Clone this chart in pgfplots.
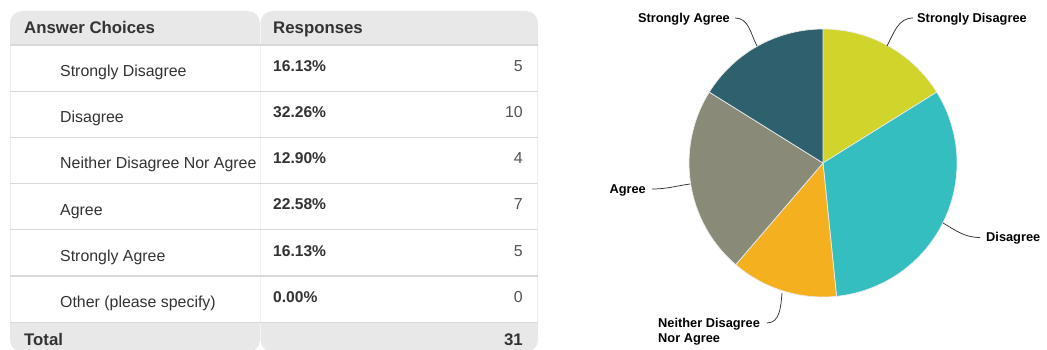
\documentclass[border=0pt]{standalone}
\usepackage{fontspec}
\setmainfont{Liberation Sans}
\usepackage{pgfplots}
\usepackage{pgfplotstable}
\pgfplotsset{compat=1.18}

\definecolor{slice0}{HTML}{D0D42B}
\definecolor{slice1}{HTML}{34BEC0}
\definecolor{slice2}{HTML}{F5B020}
\definecolor{slice3}{HTML}{8A8A78}
\definecolor{slice4}{HTML}{2E606D}
\definecolor{hdr}{HTML}{E8E8E8}
\definecolor{sepc}{HTML}{D9D9D9}
\definecolor{txt}{HTML}{333333}

% Responses: count and percent
\pgfplotstableread{
idx count percent
0 5 16.13
1 10 32.26
2 4 12.90
3 7 22.58
4 5 16.13
5 0 0.00
}\responses

\begin{document}
\begin{tikzpicture}
\useasboundingbox (0,0) rectangle (1047pt,350pt);
% total and slice angles from the data
\def\total{0}
\pgfplotsforeachungrouped \i in {0,...,5}{%
  \pgfplotstablegetelem{\i}{count}\of\responses
  \pgfmathsetmacro\total{\total+\pgfplotsretval}%
}
\def\cum{0}
\pgfplotsforeachungrouped \i in {0,...,5}{%
  \pgfplotstablegetelem{\i}{count}\of\responses
  \pgfmathsetmacro\angA{90-360*\cum/\total}%
  \pgfmathsetmacro\cum{\cum+\pgfplotsretval}%
  \pgfmathsetmacro\angB{90-360*\cum/\total}%
  \expandafter\xdef\csname sa\i\endcsname{\angA}%
  \expandafter\xdef\csname sb\i\endcsname{\angB}%
}
\begin{axis}[at={(0,0)}, anchor=south west, x=1pt, y=1pt,
  xmin=0, xmax=1047, ymin=0, ymax=350, y dir=reverse,
  hide axis, clip=false]
% ---------- table ----------
\fill[hdr, rounded corners=12pt] (axis cs:10,11) rectangle (axis cs:260,60);
\fill[hdr, rounded corners=12pt] (axis cs:260.5,11) rectangle (axis cs:538,60);
\fill[hdr, rounded corners=12pt] (axis cs:10,300) rectangle (axis cs:260,352);
\fill[hdr, rounded corners=12pt] (axis cs:260.5,300) rectangle (axis cs:538,352);
\fill[white] (axis cs:10,45) rectangle (axis cs:538,322.5);
\draw[hdr!80!white, line width=0.8pt] (axis cs:10.4,45) -- (axis cs:10.4,322);
\draw[hdr!80!white, line width=0.8pt] (axis cs:537.6,45) -- (axis cs:537.6,322);
\draw[hdr!60!white, line width=0.8pt] (axis cs:260,45) -- (axis cs:260,322);
\draw[sepc, line width=1.3pt] (axis cs:10,45) -- (axis cs:538,45);
\pgfplotsinvokeforeach{91.2,137.4,183.6,229.8,276} {
  \draw[sepc, line width=1.2pt] (axis cs:10,#1) -- (axis cs:538,#1);
}
\draw[sepc, line width=1.3pt] (axis cs:10,322.5) -- (axis cs:538,322.5);

\begin{scope}[every node/.style={inner sep=0pt, text=txt}]
\node[anchor=base west, font=\fontsize{16.8}{18}\selectfont\bfseries] at (axis cs:24,34) {Answer Choices};
\node[anchor=base west, font=\fontsize{16.8}{18}\selectfont\bfseries] at (axis cs:273,34) {Responses};
\node[anchor=base west, font=\fontsize{15.9}{18}\selectfont] at (axis cs:60,76.5) {Strongly Disagree};
\node[anchor=base west, font=\fontsize{15.9}{18}\selectfont] at (axis cs:60,122.7) {Disagree};
\node[anchor=base west, font=\fontsize{15.9}{18}\selectfont] at (axis cs:60,168.9) {Neither Disagree Nor Agree};
\node[anchor=base west, font=\fontsize{15.9}{18}\selectfont] at (axis cs:60,215.1) {Agree};
\node[anchor=base west, font=\fontsize{15.9}{18}\selectfont] at (axis cs:60,261.3) {Strongly Agree};
\node[anchor=base west, font=\fontsize{15.9}{18}\selectfont] at (axis cs:60,307.5) {Other (please specify)};
\node[anchor=base west, font=\fontsize{15.6}{18}\selectfont\bfseries] at (axis cs:273,71.3) {16.13\%};
\node[anchor=base west, font=\fontsize{15.6}{18}\selectfont\bfseries] at (axis cs:273,117.5) {32.26\%};
\node[anchor=base west, font=\fontsize{15.6}{18}\selectfont\bfseries] at (axis cs:273,163.7) {12.90\%};
\node[anchor=base west, font=\fontsize{15.6}{18}\selectfont\bfseries] at (axis cs:273,209.9) {22.58\%};
\node[anchor=base west, font=\fontsize{15.6}{18}\selectfont\bfseries] at (axis cs:273,256.1) {16.13\%};
\node[anchor=base west, font=\fontsize{15.6}{18}\selectfont\bfseries] at (axis cs:273,302.3) {0.00\%};
\node[anchor=base east, font=\fontsize{15.9}{18}\selectfont, text=txt!85!white] at (axis cs:523,71.3) {5};
\node[anchor=base east, font=\fontsize{15.9}{18}\selectfont, text=txt!85!white] at (axis cs:523,117.5) {10};
\node[anchor=base east, font=\fontsize{15.9}{18}\selectfont, text=txt!85!white] at (axis cs:523,163.7) {4};
\node[anchor=base east, font=\fontsize{15.9}{18}\selectfont, text=txt!85!white] at (axis cs:523,209.9) {7};
\node[anchor=base east, font=\fontsize{15.9}{18}\selectfont, text=txt!85!white] at (axis cs:523,256.1) {5};
\node[anchor=base east, font=\fontsize{15.9}{18}\selectfont, text=txt!85!white] at (axis cs:523,302.3) {0};
\node[anchor=base west, font=\fontsize{16.8}{18}\selectfont\bfseries] at (axis cs:24,345) {Total};
\node[anchor=base east, font=\fontsize{16.8}{18}\selectfont\bfseries] at (axis cs:523,345) {31};
\end{scope}

% ---------- pie ----------
\pgfplotsinvokeforeach{0,...,4}{
  \fill[slice#1, draw=white!85!gray, line width=0.7pt]
    (axis cs:823,163) -- ++({\csname sa#1\endcsname}:134pt)
    arc[start angle=\csname sa#1\endcsname, end angle=\csname sb#1\endcsname, radius=134pt] -- cycle;
}
% leader lines
\begin{scope}[black!80, line width=0.75pt]
\draw (axis cs:735,18) to[out=0,in=118] (axis cs:757,46);
\draw (axis cs:887,46) to[out=62,in=180] (axis cs:913,18);
\draw (axis cs:652,189) to[out=0,in=188] (axis cs:690,184);
\draw (axis cs:943,223) to[out=-30,in=180] (axis cs:980,237.5);
\draw (axis cs:782,293) to[out=-95,in=0] (axis cs:767,323);
\end{scope}
\begin{scope}[every node/.style={inner sep=0pt, text=black, font=\fontsize{12.8}{15}\selectfont\bfseries}]
\node[anchor=base east] at (axis cs:730,22.5) {Strongly Agree};
\node[anchor=base west] at (axis cs:917,22.5) {Strongly Disagree};
\node[anchor=base east] at (axis cs:646,193.3) {Agree};
\node[anchor=base west] at (axis cs:986,241.5) {Disagree};
\node[anchor=base west] at (axis cs:658,327.7) {Neither Disagree};
\node[anchor=base west] at (axis cs:658,342.7) {Nor Agree};
\end{scope}
\end{axis}
\end{tikzpicture}
\end{document}
